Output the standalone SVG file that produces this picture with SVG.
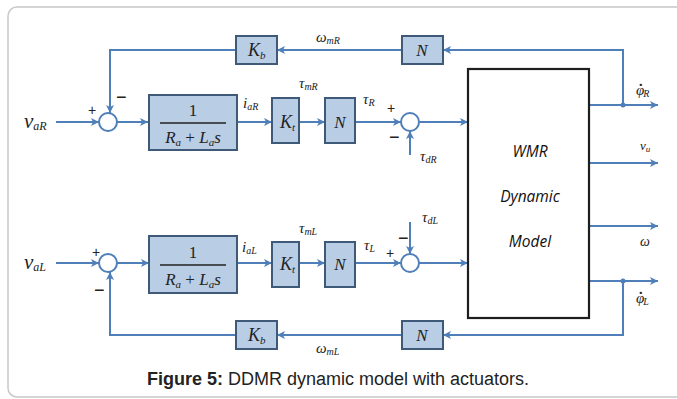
<svg xmlns="http://www.w3.org/2000/svg" width="677" height="399" viewBox="0 0 677 399">
<defs>
<marker id="arr" markerWidth="10" markerHeight="10" refX="9" refY="5" orient="auto" markerUnits="userSpaceOnUse">
<path d="M1,1 L9,5 L1,9 L3,5 z" fill="#4f7fb8"/>
</marker>
</defs>
<style>
.blk{fill:#b9cde5;stroke:#3e5a78;stroke-width:2}
.wmr{fill:#ffffff;stroke:#1e1e1e;stroke-width:2.2}
.sum{fill:#ffffff;stroke:#4f7fb8;stroke-width:2}
.ln{fill:none;stroke:#4f7fb8;stroke-width:2;marker-end:url(#arr)}
.m{font-family:"Liberation Serif",serif;font-style:italic;fill:#222}
.r{font-family:"Liberation Serif",serif;fill:#222}
.sg{font-family:"Liberation Sans",sans-serif;fill:#222}
.w{font-family:"Open Sans","Liberation Sans",sans-serif;font-style:italic;font-size:15.5px;fill:#111;text-anchor:middle}
.cap{font-family:"Liberation Sans",Arial,sans-serif;font-size:18px;fill:#222;text-anchor:middle}
</style>
<rect x="8" y="7" width="720" height="390" rx="9" fill="none" stroke="#c8c8c8" stroke-width="1.5"/>

<g id="connectors">
<path class="ln" d="M56,122 L99,122"/>
<path class="ln" d="M117,122 L148,122"/>
<path class="ln" d="M237,122 L272,122"/>
<path class="ln" d="M299,122 L325,122"/>
<path class="ln" d="M355,122 L401,122"/>
<path class="ln" d="M419,122 L468,122"/>
<path class="ln" d="M410,155 L410,131"/>
<path class="ln" d="M589,105 L658,105"/>
<path class="ln" d="M623,105 L623,50 L443,50"/>
<path class="ln" d="M402,50 L277,50"/>
<path class="ln" d="M236,50 L110,50 L110,113"/>
<path class="ln" d="M589,163 L658,163"/>
<path class="ln" d="M589,226 L658,226"/>
<path class="ln" d="M56,263 L99,263"/>
<path class="ln" d="M117,263 L149,263"/>
<path class="ln" d="M237,263 L272,263"/>
<path class="ln" d="M299,263 L325,263"/>
<path class="ln" d="M355,263 L401,263"/>
<path class="ln" d="M410,222 L410,254"/>
<path class="ln" d="M419,263 L468,263"/>
<path class="ln" d="M589,281 L658,281"/>
<path class="ln" d="M623,281 L623,335 L443,335"/>
<path class="ln" d="M402,335 L277,335"/>
<path class="ln" d="M236,335 L110,335 L110,272"/>
<circle cx="623" cy="105" r="2.5" fill="#4f7fb8"/>
<circle cx="623" cy="281" r="2.5" fill="#4f7fb8"/>
</g>

<g id="sumR1"><circle class="sum" cx="108" cy="122" r="9"/></g>
<g id="sumR2"><circle class="sum" cx="410" cy="122" r="9"/></g>
<g id="sumL1"><circle class="sum" cx="108" cy="263" r="9"/></g>
<g id="sumL2"><circle class="sum" cx="410" cy="263" r="9"/></g>

<g id="fracR">
<rect class="blk" x="149" y="95" width="88" height="55"/>
<text class="r" x="193" y="116" font-size="17" text-anchor="middle">1</text>
<line x1="160" y1="123" x2="226" y2="123" stroke="#222" stroke-width="1.3"/>
<text class="m" x="193" y="143" font-size="17" text-anchor="middle">R<tspan font-size="11" dy="3">a</tspan><tspan dy="-3" font-style="normal"> + </tspan>L<tspan font-size="11" dy="3">a</tspan><tspan dy="-3">s</tspan></text>
</g>
<g id="fracL">
<rect class="blk" x="149" y="236" width="88" height="57"/>
<text class="r" x="193" y="258" font-size="17" text-anchor="middle">1</text>
<line x1="160" y1="265" x2="226" y2="265" stroke="#222" stroke-width="1.3"/>
<text class="m" x="193" y="285" font-size="17" text-anchor="middle">R<tspan font-size="11" dy="3">a</tspan><tspan dy="-3" font-style="normal"> + </tspan>L<tspan font-size="11" dy="3">a</tspan><tspan dy="-3">s</tspan></text>
</g>
<g id="KtR"><rect class="blk" x="272" y="98" width="27" height="45"/><text class="m" x="280" y="128" font-size="18">K<tspan font-size="11" dy="3">t</tspan></text></g>
<g id="KtL"><rect class="blk" x="272" y="242" width="27" height="45"/><text class="m" x="280" y="270" font-size="18">K<tspan font-size="11" dy="3">t</tspan></text></g>
<g id="NR"><rect class="blk" x="325" y="98" width="30" height="45"/><text class="m" x="340" y="128" font-size="17" text-anchor="middle">N</text></g>
<g id="NL"><rect class="blk" x="325" y="242" width="30" height="45"/><text class="m" x="340" y="270" font-size="17" text-anchor="middle">N</text></g>
<g id="KbR"><rect class="blk" x="236" y="36" width="41" height="28"/><text class="m" x="248" y="56" font-size="18">K<tspan font-size="11" dy="3">b</tspan></text></g>
<g id="KbL"><rect class="blk" x="236" y="321" width="41" height="28"/><text class="m" x="248" y="341" font-size="18">K<tspan font-size="11" dy="3">b</tspan></text></g>
<g id="NfbR"><rect class="blk" x="402" y="36" width="41" height="28"/><text class="m" x="422" y="56" font-size="17" text-anchor="middle">N</text></g>
<g id="NfbL"><rect class="blk" x="402" y="321" width="41" height="28"/><text class="m" x="422" y="341" font-size="17" text-anchor="middle">N</text></g>
<g id="WMR">
<rect class="wmr" x="468" y="69" width="121" height="249"/>
<text class="w" x="530" y="157">WMR</text>
<text class="w" x="530" y="202">Dynamic</text>
<text class="w" x="530" y="247">Model</text>
</g>

<g id="labels">
<text class="m" x="24" y="128" font-size="21">v<tspan font-size="12" dy="2">aR</tspan></text>
<text class="m" x="24" y="269" font-size="21">v<tspan font-size="12" dy="2">aL</tspan></text>
<text class="m" x="243" y="108" font-size="15">i<tspan font-size="10" dy="2">aR</tspan></text>
<text class="m" x="242" y="252" font-size="15">i<tspan font-size="10" dy="2">aL</tspan></text>
<text class="m" x="299" y="88" font-size="15">τ<tspan font-size="10" dy="2">mR</tspan></text>
<text class="m" x="299" y="233" font-size="15">τ<tspan font-size="10" dy="2">mL</tspan></text>
<text class="m" x="363" y="104" font-size="15">τ<tspan font-size="10" dy="2">R</tspan></text>
<text class="m" x="364" y="250" font-size="15">τ<tspan font-size="10" dy="2">L</tspan></text>
<text class="m" x="420" y="161" font-size="15">τ<tspan font-size="10" dy="2">dR</tspan></text>
<text class="m" x="422" y="222" font-size="15">τ<tspan font-size="10" dy="2">dL</tspan></text>
<text class="m" x="316" y="42" font-size="15">ω<tspan font-size="10" dy="2">mR</tspan></text>
<text class="m" x="316" y="353" font-size="15">ω<tspan font-size="10" dy="2">mL</tspan></text>
<text class="m" x="636" y="95" font-size="15">φ<tspan font-style="normal" font-weight="bold" dx="-6" dy="-1">˙</tspan><tspan font-size="10" dx="0" dy="3">R</tspan></text>
<text class="m" x="636" y="303" font-size="15">φ<tspan font-style="normal" font-weight="bold" dx="-6" dy="-1">˙</tspan><tspan font-size="10" dx="0" dy="3">L</tspan></text>
<text class="m" x="640" y="150" font-size="13">v<tspan font-size="9" dy="2">u</tspan></text>
<text class="m" x="640" y="246" font-size="14">ω</text>
<text class="sg" x="88" y="115" font-size="14">+</text>
<text class="sg" x="116" y="103" font-size="18">−</text>
<text class="sg" x="387" y="113" font-size="14">+</text>
<text class="sg" x="389" y="143" font-size="18">−</text>
<text class="sg" x="92" y="257" font-size="14">+</text>
<text class="sg" x="94" y="296" font-size="18">−</text>
<text class="sg" x="386" y="258" font-size="14">+</text>
<text class="sg" x="398" y="244" font-size="18">−</text>
</g>

<text class="cap" x="338" y="385"><tspan font-weight="bold">Figure 5:</tspan> DDMR dynamic model with actuators.</text>
</svg>
